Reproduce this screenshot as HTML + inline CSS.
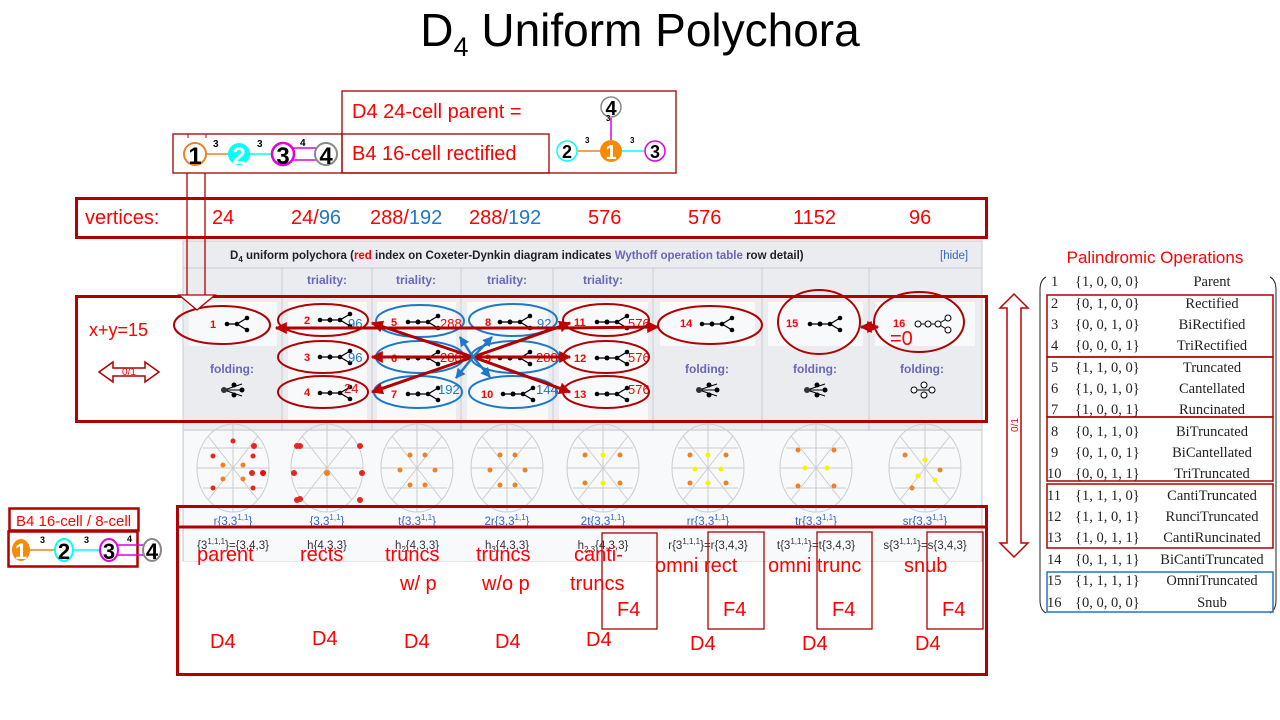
<!DOCTYPE html>
<html><head><meta charset="utf-8"><style>
html,body{margin:0;padding:0;background:#fff;width:1280px;height:720px;overflow:hidden}
svg{display:block}
text{font-family:"Liberation Sans",sans-serif}
.r{fill:#ff0000}.b{fill:#1f77c8}
.th{font-weight:bold;font-size:12px;fill:#6a66b8}
.tn text{font-family:"Liberation Serif",serif;font-size:14.5px;fill:#222}
.sm{font-size:11.5px;fill:#3366cc}
.sm2{font-size:11.5px;fill:#333}
.lbl{font-size:20px;fill:#ff0000}
</style></head><body>
<svg width="1280" height="720" viewBox="0 0 1280 720" xmlns="http://www.w3.org/2000/svg">
<defs>
<g id="cd"><line x1="0" y1="0" x2="10" y2="0" stroke="#000" stroke-width="1.3"/><line x1="10" y1="0" x2="20" y2="-6" stroke="#000" stroke-width="1.3"/><line x1="10" y1="0" x2="20" y2="6" stroke="#000" stroke-width="1.3"/><circle cx="0" cy="0" r="2.3"/><circle cx="10" cy="0" r="2.3"/><circle cx="20" cy="-6" r="2.3"/><circle cx="20" cy="6" r="2.3"/></g>
<g id="cd2"><line x1="0" y1="0" x2="20" y2="0" stroke="#000" stroke-width="1.3"/><line x1="20" y1="0" x2="30" y2="-6" stroke="#000" stroke-width="1.3"/><line x1="20" y1="0" x2="30" y2="6" stroke="#000" stroke-width="1.3"/><circle cx="0" cy="0" r="2.3"/><circle cx="10" cy="0" r="2.5"/><circle cx="20" cy="0" r="2.3"/><circle cx="30" cy="-6" r="2.3"/><circle cx="30" cy="6" r="2.3"/></g>
<g id="fold"><line x1="0" y1="0" x2="18" y2="-6" stroke="#000"/><line x1="0" y1="0" x2="18" y2="6" stroke="#000"/><line x1="0" y1="0" x2="20" y2="0" stroke="#000"/><circle cx="0" cy="0" r="3" fill="#333"/><circle cx="10" cy="-5" r="2.5"/><circle cx="10" cy="5" r="2.5"/><circle cx="18" cy="0" r="2.5"/></g>
<marker id="ar" viewBox="0 0 10 10" refX="9" refY="5" markerWidth="4" markerHeight="4" orient="auto-start-reverse"><path d="M0,0L10,5L0,10z" fill="#c00000"/></marker>
<marker id="ab" viewBox="0 0 10 10" refX="9" refY="5" markerWidth="4" markerHeight="4" orient="auto"><path d="M0,0L10,5L0,10z" fill="#1f77c8"/></marker>
<g id="gr"><ellipse cx="0" cy="0" rx="36" ry="44" fill="none" stroke="#ccc"/><path d="M-36,0L36,0M0,-44L0,44M-25,-32L25,32M25,-32L-25,32M-30,-20L30,-20M-30,20L30,20" stroke="#ccc" fill="none"/></g>
</defs>

<!-- title -->
<text x="640" y="46" text-anchor="middle" font-size="46" fill="#000">D<tspan font-size="27" dy="10">4</tspan><tspan dy="-10"> Uniform Polychora</tspan></text>

<!-- top boxes -->
<rect x="342" y="91" width="334" height="82" fill="none" stroke="#a00000" stroke-width="1.3"/>
<rect x="173" y="134" width="376" height="39" fill="none" stroke="#a00000" stroke-width="1.3"/>
<line x1="342" y1="134" x2="342" y2="173" stroke="#a00000" stroke-width="1.3"/>
<text x="352" y="118" font-size="20" class="r">D4 24-cell parent =</text>
<text x="352" y="160" font-size="20" class="r">B4 16-cell rectified</text>
<g font-weight="bold">
<line x1="205" y1="154" x2="228" y2="154" stroke="#f08020" stroke-width="1.5"/>
<line x1="248" y1="154" x2="272" y2="154" stroke="cyan" stroke-width="1.5"/>
<line x1="292" y1="148" x2="316" y2="148" stroke="#e000e0" stroke-width="1.5"/>
<line x1="292" y1="160" x2="316" y2="160" stroke="#e000e0" stroke-width="1.5"/>
<circle cx="195" cy="154" r="11" fill="#fff" stroke="#f08020" stroke-width="2"/>
<circle cx="239" cy="154" r="11" fill="cyan"/>
<circle cx="283" cy="154" r="11" fill="#fff" stroke="#e000e0" stroke-width="2.5"/>
<circle cx="326" cy="154" r="11" fill="#fff" stroke="#888" stroke-width="2"/>
<text x="195" y="164" text-anchor="middle" font-size="24" fill="#000">1</text>
<text x="239" y="164" text-anchor="middle" font-size="24" fill="#fff">2</text>
<text x="283" y="164" text-anchor="middle" font-size="24" fill="#000">3</text>
<text x="326" y="164" text-anchor="middle" font-size="24" fill="#000">4</text>
<text x="213" y="147" font-size="10">3</text><text x="257" y="147" font-size="10">3</text><text x="300" y="146" font-size="10">4</text>
<line x1="188" y1="134" x2="188" y2="138" stroke="#a00000"/><line x1="206" y1="134" x2="206" y2="138" stroke="#a00000"/>
</g>
<g font-weight="bold">
<line x1="578" y1="151" x2="600" y2="151" stroke="#f08020" stroke-width="1.5"/>
<line x1="622" y1="151" x2="644" y2="151" stroke="cyan" stroke-width="1.5"/>
<line x1="611" y1="118" x2="611" y2="140" stroke="#e000e0" stroke-width="1.5"/>
<circle cx="611" cy="107" r="10" fill="#fff" stroke="#888" stroke-width="1.5"/>
<circle cx="567" cy="151" r="10" fill="#fff" stroke="cyan" stroke-width="1.5"/>
<circle cx="611" cy="151" r="11" fill="#f68a00"/>
<circle cx="655" cy="151" r="10" fill="#fff" stroke="#e000e0" stroke-width="1.5"/>
<text x="611" y="115" text-anchor="middle" font-size="20">4</text>
<text x="567" y="158" text-anchor="middle" font-size="18">2</text>
<text x="611" y="159" text-anchor="middle" font-size="20" fill="#fff">1</text>
<text x="655" y="158" text-anchor="middle" font-size="18">3</text>
<text x="585" y="143" font-size="8">3</text><text x="630" y="143" font-size="8">3</text><text x="606" y="121" font-size="8">3</text>
</g>

<!-- vertices row -->
<rect x="76.5" y="198.5" width="910" height="39" fill="none" stroke="#b00000" stroke-width="3"/>
<g font-size="20" class="r">
<text x="85" y="224">vertices:</text>
<text x="212" y="224">24</text>
<text x="291" y="224">24/<tspan class="b">96</tspan></text>
<text x="370" y="224">288/<tspan class="b">192</tspan></text>
<text x="469" y="224">288/<tspan class="b">192</tspan></text>
<text x="588" y="224">576</text>
<text x="688" y="224">576</text>
<text x="793" y="224">1152</text>
<text x="909" y="224">96</text>
</g>

<!-- table background -->
<rect x="183" y="241" width="799" height="320" fill="#eaecf0" stroke="#c8ccd1"/>
<line x1="183" y1="268" x2="982" y2="268" stroke="#c8ccd1"/>
<line x1="183" y1="430" x2="982" y2="430" stroke="#c8ccd1"/>
<line x1="183" y1="505" x2="982" y2="505" stroke="#c8ccd1"/>
<line x1="183" y1="531" x2="982" y2="531" stroke="#c8ccd1"/>
<g stroke="#c8ccd1"><line x1="282" y1="268" x2="282" y2="561"/><line x1="372" y1="268" x2="372" y2="561"/><line x1="461" y1="268" x2="461" y2="561"/><line x1="553" y1="268" x2="553" y2="561"/><line x1="653" y1="268" x2="653" y2="561"/><line x1="762" y1="268" x2="762" y2="561"/><line x1="869" y1="268" x2="869" y2="561"/></g>
<rect x="184" y="431" width="797" height="74" fill="#f8f9fa"/>
<rect x="184" y="506" width="797" height="55" fill="#f8f9fa"/>
<text x="230" y="259" font-size="11.5" font-weight="bold" fill="#202122">D<tspan font-size="8" dy="3">4</tspan><tspan dy="-3"> uniform polychora (</tspan><tspan fill="#ff0000">red</tspan> index on Coxeter-Dynkin diagram indicates <tspan fill="#6a66b8">Wythoff operation table</tspan> row detail)</text>
<text x="940" y="259" font-size="11.5" fill="#3366cc">[hide]</text>
<g class="th" text-anchor="middle"><text x="327" y="284">triality:</text><text x="416" y="284">triality:</text><text x="507" y="284">triality:</text><text x="603" y="284">triality:</text></g>
<g fill="#f8f9fa"><rect x="189" y="302" width="88" height="44"/><rect x="288" y="302" width="79" height="120"/><rect x="377" y="302" width="79" height="120"/><rect x="467" y="302" width="81" height="120"/><rect x="559" y="302" width="89" height="120"/><rect x="660" y="302" width="95" height="44"/><rect x="768" y="302" width="95" height="44"/><rect x="875" y="302" width="100" height="44"/></g>
<g class="th" text-anchor="middle"><text x="232" y="373">folding:</text><text x="707" y="373">folding:</text><text x="815" y="373">folding:</text><text x="922" y="373">folding:</text></g>
<use href="#fold" x="224" y="390"/><use href="#fold" x="699" y="390"/><use href="#fold" x="807" y="390"/>
<g transform="translate(914,390)"><line x1="0" y1="0" x2="20" y2="0" stroke="#000"/><circle cx="0" cy="0" r="3" fill="#fff" stroke="#000"/><circle cx="10" cy="-5" r="3" fill="#fff" stroke="#000"/><circle cx="10" cy="5" r="3" fill="#fff" stroke="#000"/><circle cx="18" cy="0" r="3" fill="#fff" stroke="#000"/></g>
<g font-weight="bold" font-size="11" fill="#ff0000">
<text x="210" y="328">1</text><text x="304" y="324">2</text><text x="304" y="361">3</text><text x="304" y="396">4</text>
<text x="391" y="326">5</text><text x="391" y="362">6</text><text x="391" y="398">7</text>
<text x="485" y="326">8</text><text x="485" y="362">9</text><text x="481" y="398">10</text>
<text x="574" y="326">11</text><text x="574" y="362">12</text><text x="574" y="398">13</text>
<text x="680" y="327">14</text><text x="786" y="327">15</text><text x="893" y="327">16</text>
</g>
<use href="#cd" x="227" y="324"/>
<use href="#cd2" x="320" y="320"/><use href="#cd2" x="320" y="357"/><use href="#cd2" x="320" y="393"/>
<use href="#cd2" x="408" y="322"/><use href="#cd2" x="408" y="358"/><use href="#cd2" x="408" y="394"/>
<use href="#cd2" x="500" y="322"/><use href="#cd2" x="500" y="358"/><use href="#cd2" x="503" y="394"/>
<use href="#cd2" x="597" y="322"/><use href="#cd2" x="597" y="358"/><use href="#cd2" x="597" y="394"/>
<use href="#cd2" x="702" y="324"/><use href="#cd2" x="810" y="324"/>
<g transform="translate(918,324)" fill="#fff" stroke="#000"><line x1="0" y1="0" x2="20" y2="0"/><line x1="20" y1="0" x2="30" y2="-6"/><line x1="20" y1="0" x2="30" y2="6"/><circle cx="0" cy="0" r="3"/><circle cx="10" cy="0" r="3"/><circle cx="20" cy="0" r="3"/><circle cx="30" cy="-6" r="3"/><circle cx="30" cy="6" r="3"/></g>
<g font-size="13"><text x="348" y="328" class="b">96</text><text x="348" y="362" class="b">96</text><text x="344" y="393" class="r">24</text>
<text x="440" y="328" class="r">288</text><text x="440" y="362" class="r">288</text><text x="438" y="394" class="b">192</text>
<text x="537" y="328" class="b">92</text><text x="536" y="362" class="r">288</text><text x="536" y="394" class="b">144</text>
<text x="628" y="328" class="r">576</text><text x="628" y="362" class="r">576</text><text x="628" y="394" class="r">576</text>
<text x="890" y="345" font-size="20" class="r">=0</text></g>

<g fill="none" stroke-width="2">
<ellipse cx="222" cy="325" rx="48" ry="19" stroke="#b00000"/>
<ellipse cx="323" cy="320" rx="45" ry="16" stroke="#b00000"/><ellipse cx="323" cy="357" rx="45" ry="16" stroke="#b00000"/><ellipse cx="323" cy="392" rx="45" ry="16" stroke="#b00000"/>
<ellipse cx="420" cy="321" rx="44" ry="16" stroke="#1f77c8"/><ellipse cx="420" cy="357" rx="44" ry="16" stroke="#1f77c8"/><ellipse cx="418" cy="392" rx="44" ry="16" stroke="#1f77c8"/>
<ellipse cx="513" cy="320" rx="44" ry="16" stroke="#1f77c8"/><ellipse cx="515" cy="357" rx="44" ry="16" stroke="#1f77c8"/><ellipse cx="513" cy="392" rx="44" ry="16" stroke="#1f77c8"/>
<ellipse cx="606" cy="320" rx="43" ry="16" stroke="#b00000"/><ellipse cx="606" cy="357" rx="43" ry="16" stroke="#b00000"/><ellipse cx="606" cy="392" rx="43" ry="16" stroke="#b00000"/>
<ellipse cx="710" cy="325" rx="52" ry="19" stroke="#b00000"/>
<ellipse cx="819" cy="322" rx="41" ry="32" stroke="#b00000"/>
<ellipse cx="919" cy="322" rx="45" ry="30" stroke="#b00000"/>
</g>
<g stroke="#b00000" stroke-width="3" marker-end="url(#ar)" fill="none">
<line x1="473" y1="357" x2="372" y2="323"/><line x1="473" y1="357" x2="372" y2="357"/><line x1="473" y1="357" x2="372" y2="392"/>
<line x1="473" y1="357" x2="570" y2="323"/><line x1="473" y1="357" x2="570" y2="357"/><line x1="473" y1="357" x2="570" y2="392"/>
<line x1="560" y1="328" x2="276" y2="328"/><line x1="560" y1="328" x2="658" y2="327"/>
<line x1="861" y1="327" x2="878" y2="327" marker-start="url(#ar)"/>
</g>
<g stroke="#1f77c8" stroke-width="2.5" marker-end="url(#ab)">
<line x1="473" y1="357" x2="460" y2="337"/><line x1="473" y1="357" x2="492" y2="337"/><line x1="473" y1="357" x2="456" y2="378"/><line x1="473" y1="357" x2="490" y2="377"/>
</g>

<rect x="76.5" y="296.5" width="910" height="125" fill="none" stroke="#b00000" stroke-width="3"/>
<text x="89" y="336" font-size="18" class="r">x+y=15</text>
<path d="M99,372 L113,362 L113,368 L145,368 L145,362 L159,372 L145,382 L145,376 L113,376 L113,382 Z" fill="#fff" stroke="#b00000" stroke-width="1.5"/>
<text x="129" y="375" font-size="10" text-anchor="middle" class="r">0/1</text>
<g stroke="#b00000" stroke-width="1.3" fill="#fff">
<line x1="187" y1="173" x2="187" y2="296"/><line x1="205" y1="173" x2="205" y2="296"/>
<path d="M179,295 L215,295 L197,310 Z"/>
</g>

<g>
<use href="#gr" x="233" y="468"/><use href="#gr" x="327" y="468"/><use href="#gr" x="417" y="468"/><use href="#gr" x="507" y="468"/><use href="#gr" x="603" y="468"/><use href="#gr" x="708" y="468"/><use href="#gr" x="816" y="468"/><use href="#gr" x="925" y="468"/>
</g>
<g fill="#e6261f">
<circle cx="213" cy="456" r="2.5"/><circle cx="253" cy="456" r="2.5"/><circle cx="213" cy="488" r="2.5"/><circle cx="253" cy="488" r="2.5"/><circle cx="233" cy="441" r="2.5"/>
<circle cx="263" cy="473" r="3" fill="#ff0000"/><circle cx="254" cy="446" r="3"/><circle cx="300" cy="446" r="3"/><circle cx="252" cy="473" r="3"/><circle cx="300" cy="499" r="3"/>
<circle cx="297" cy="446" r="3"/><circle cx="360" cy="446" r="3"/><circle cx="294" cy="473" r="3"/><circle cx="362" cy="473" r="3"/><circle cx="297" cy="500" r="3"/><circle cx="360" cy="500" r="3"/>
</g>
<g fill="#f08020">
<circle cx="223" cy="465" r="2.5"/><circle cx="243" cy="465" r="2.5"/><circle cx="223" cy="479" r="2.5"/><circle cx="243" cy="479" r="2.5"/><circle cx="327" cy="473" r="3"/>
<circle cx="410" cy="455" r="2.5"/><circle cx="425" cy="455" r="2.5"/><circle cx="400" cy="470" r="2.5"/><circle cx="435" cy="470" r="2.5"/><circle cx="410" cy="485" r="2.5"/><circle cx="425" cy="485" r="2.5"/>
<circle cx="500" cy="455" r="2.5"/><circle cx="515" cy="455" r="2.5"/><circle cx="490" cy="470" r="2.5"/><circle cx="525" cy="470" r="2.5"/><circle cx="500" cy="485" r="2.5"/><circle cx="515" cy="485" r="2.5"/>
<circle cx="585" cy="455" r="2.5"/><circle cx="620" cy="455" r="2.5"/><circle cx="585" cy="483" r="2.5"/><circle cx="620" cy="483" r="2.5"/>
<circle cx="690" cy="455" r="2.5"/><circle cx="726" cy="455" r="2.5"/><circle cx="690" cy="483" r="2.5"/><circle cx="726" cy="483" r="2.5"/>
<circle cx="798" cy="450" r="2.5"/><circle cx="834" cy="450" r="2.5"/><circle cx="798" cy="486" r="2.5"/><circle cx="834" cy="486" r="2.5"/>
<circle cx="905" cy="455" r="2.5"/><circle cx="940" cy="470" r="2.5"/><circle cx="912" cy="488" r="2.5"/>
</g>
<g fill="#f5f500">
<circle cx="603" cy="455" r="2.5"/><circle cx="603" cy="483" r="2.5"/><circle cx="708" cy="455" r="2.5"/><circle cx="708" cy="483" r="2.5"/><circle cx="695" cy="469" r="2.5"/><circle cx="721" cy="469" r="2.5"/>
<circle cx="805" cy="468" r="2.5"/><circle cx="827" cy="468" r="2.5"/><circle cx="925" cy="460" r="2.5"/><circle cx="918" cy="476" r="2.5"/><circle cx="935" cy="480" r="2.5"/>
</g>

<g class="sm" text-anchor="middle">
<text x="233" y="525">r{3,3<tspan font-size="8" dy="-5">1,1</tspan><tspan dy="5">}</tspan></text>
<text x="327" y="525">{3,3<tspan font-size="8" dy="-5">1,1</tspan><tspan dy="5">}</tspan></text>
<text x="417" y="525">t{3,3<tspan font-size="8" dy="-5">1,1</tspan><tspan dy="5">}</tspan></text>
<text x="507" y="525">2r{3,3<tspan font-size="8" dy="-5">1,1</tspan><tspan dy="5">}</tspan></text>
<text x="603" y="525">2t{3,3<tspan font-size="8" dy="-5">1,1</tspan><tspan dy="5">}</tspan></text>
<text x="708" y="525">rr{3,3<tspan font-size="8" dy="-5">1,1</tspan><tspan dy="5">}</tspan></text>
<text x="816" y="525">tr{3,3<tspan font-size="8" dy="-5">1,1</tspan><tspan dy="5">}</tspan></text>
<text x="925" y="525">sr{3,3<tspan font-size="8" dy="-5">1,1</tspan><tspan dy="5">}</tspan></text>
</g>
<g class="sm2" text-anchor="middle">
<text x="233" y="549">{3<tspan font-size="8" dy="-5">1,1,1</tspan><tspan dy="5">}={3,4,3}</tspan></text>
<text x="327" y="549">h{4,3,3}</text>
<text x="417" y="549">h<tspan font-size="8" dy="3">2</tspan><tspan dy="-3">{4,3,3}</tspan></text>
<text x="507" y="549">h<tspan font-size="8" dy="3">3</tspan><tspan dy="-3">{4,3,3}</tspan></text>
<text x="603" y="549">h<tspan font-size="8" dy="3">2,3</tspan><tspan dy="-3">{4,3,3}</tspan></text>
<text x="708" y="549">r{3<tspan font-size="8" dy="-5">1,1,1</tspan><tspan dy="5">}=r{3,4,3}</tspan></text>
<text x="816" y="549">t{3<tspan font-size="8" dy="-5">1,1,1</tspan><tspan dy="5">}=t{3,4,3}</tspan></text>
<text x="925" y="549">s{3<tspan font-size="8" dy="-5">1,1,1</tspan><tspan dy="5">}=s{3,4,3}</tspan></text>
</g>

<rect x="177.5" y="506.5" width="809" height="168" fill="none" stroke="#b00000" stroke-width="3"/>
<line x1="177" y1="527" x2="987" y2="527" stroke="#b00000" stroke-width="3"/>
<g fill="none" stroke="#b00000" stroke-width="1.3">
<rect x="602" y="533" width="55" height="96"/><rect x="708" y="532" width="56" height="97"/><rect x="817" y="532" width="55" height="97"/><rect x="927" y="532" width="56" height="97"/>
</g>
<g class="lbl">
<text x="197" y="561">parent</text><text x="300" y="561">rects</text>
<text x="385" y="561">truncs</text><text x="400" y="590">w/ p</text>
<text x="476" y="561">truncs</text><text x="482" y="590">w/o p</text>
<text x="574" y="561">canti-</text><text x="570" y="590">truncs</text>
<text x="655" y="572">omni rect</text><text x="768" y="572">omni trunc</text><text x="904" y="572">snub</text>
<text x="617" y="616">F4</text><text x="723" y="616">F4</text><text x="832" y="616">F4</text><text x="942" y="616">F4</text>
<text x="210" y="648">D4</text><text x="312" y="645">D4</text><text x="404" y="648">D4</text><text x="495" y="648">D4</text><text x="586" y="646">D4</text>
<text x="690" y="650">D4</text><text x="802" y="650">D4</text><text x="915" y="650">D4</text>
</g>

<rect x="9.5" y="508.5" width="129" height="22" fill="none" stroke="#b00000" stroke-width="2.5"/>
<rect x="8.5" y="531.5" width="129" height="35" fill="none" stroke="#b00000" stroke-width="2.5"/>
<text x="16" y="526" font-size="15" class="r">B4 16-cell / 8-cell</text>
<g font-weight="bold">
<line x1="28" y1="550" x2="56" y2="550" stroke="#f08020" stroke-width="1.5"/>
<line x1="72" y1="550" x2="100" y2="550" stroke="cyan" stroke-width="1.5"/>
<line x1="116" y1="545" x2="145" y2="545" stroke="#e000e0" stroke-width="1.5"/>
<line x1="116" y1="555" x2="145" y2="555" stroke="#e000e0" stroke-width="1.5"/>
<ellipse cx="21" cy="550" rx="9" ry="11" fill="#f68a00"/>
<ellipse cx="64" cy="550" rx="9" ry="11" fill="#fff" stroke="cyan" stroke-width="2"/>
<ellipse cx="109" cy="550" rx="9" ry="11" fill="#fff" stroke="#e000e0" stroke-width="2"/>
<ellipse cx="152" cy="550" rx="9" ry="11" fill="#fff" stroke="#888" stroke-width="2"/>
<text x="21" y="559" text-anchor="middle" font-size="22" fill="#fff">1</text>
<text x="64" y="559" text-anchor="middle" font-size="22">2</text>
<text x="109" y="559" text-anchor="middle" font-size="22">3</text>
<text x="152" y="559" text-anchor="middle" font-size="22">4</text>
<text x="40" y="543" font-size="9">3</text><text x="84" y="543" font-size="9">3</text><text x="127" y="542" font-size="9">4</text>
</g>

<path d="M1014,294 L1028,308 L1021,308 L1021,543 L1028,543 L1014,557 L1000,543 L1007,543 L1007,308 L1000,308 Z" fill="#fff" stroke="#c00000" stroke-width="1.5"/>
<text transform="translate(1018,425) rotate(-90)" font-size="10" text-anchor="middle" class="r">0/1</text>

<text x="1155" y="263" font-size="17" text-anchor="middle" class="r">Palindromic Operations</text>
<path d="M1046,277 Q1040,280 1040,290 L1040,600 Q1040,610 1046,613" fill="none" stroke="#222" stroke-width="1"/>
<path d="M1270,277 Q1276,280 1276,290 L1276,600 Q1276,610 1270,613" fill="none" stroke="#222" stroke-width="1"/>
<g fill="none" stroke="#b00000" stroke-width="1.5">
<rect x="1047" y="295" width="226" height="62"/><rect x="1047" y="357" width="226" height="60"/><rect x="1047" y="417" width="226" height="64"/><rect x="1047" y="484" width="226" height="64"/>
</g>
<rect x="1047" y="572" width="226" height="40" fill="none" stroke="#1f77c8" stroke-width="1.5"/>
<g class="tn">
<text x="1051" y="286">1</text><text x="1075" y="286">{1, 0, 0, 0}</text><text x="1212" y="286" text-anchor="middle">Parent</text>
<text x="1051" y="308">2</text><text x="1075" y="308">{0, 1, 0, 0}</text><text x="1212" y="308" text-anchor="middle">Rectified</text>
<text x="1051" y="329">3</text><text x="1075" y="329">{0, 0, 1, 0}</text><text x="1212" y="329" text-anchor="middle">BiRectified</text>
<text x="1051" y="350">4</text><text x="1075" y="350">{0, 0, 0, 1}</text><text x="1212" y="350" text-anchor="middle">TriRectified</text>
<text x="1051" y="372">5</text><text x="1075" y="372">{1, 1, 0, 0}</text><text x="1212" y="372" text-anchor="middle">Truncated</text>
<text x="1051" y="393">6</text><text x="1075" y="393">{1, 0, 1, 0}</text><text x="1212" y="393" text-anchor="middle">Cantellated</text>
<text x="1051" y="414">7</text><text x="1075" y="414">{1, 0, 0, 1}</text><text x="1212" y="414" text-anchor="middle">Runcinated</text>
<text x="1051" y="436">8</text><text x="1075" y="436">{0, 1, 1, 0}</text><text x="1212" y="436" text-anchor="middle">BiTruncated</text>
<text x="1051" y="457">9</text><text x="1075" y="457">{0, 1, 0, 1}</text><text x="1212" y="457" text-anchor="middle">BiCantellated</text>
<text x="1047" y="478">10</text><text x="1075" y="478">{0, 0, 1, 1}</text><text x="1212" y="478" text-anchor="middle">TriTruncated</text>
<text x="1047" y="500">11</text><text x="1075" y="500">{1, 1, 1, 0}</text><text x="1212" y="500" text-anchor="middle">CantiTruncated</text>
<text x="1047" y="521">12</text><text x="1075" y="521">{1, 1, 0, 1}</text><text x="1212" y="521" text-anchor="middle">RunciTruncated</text>
<text x="1047" y="542">13</text><text x="1075" y="542">{1, 0, 1, 1}</text><text x="1212" y="542" text-anchor="middle">CantiRuncinated</text>
<text x="1047" y="564">14</text><text x="1075" y="564">{0, 1, 1, 1}</text><text x="1212" y="564" text-anchor="middle">BiCantiTruncated</text>
<text x="1047" y="585">15</text><text x="1075" y="585">{1, 1, 1, 1}</text><text x="1212" y="585" text-anchor="middle">OmniTruncated</text>
<text x="1047" y="607">16</text><text x="1075" y="607">{0, 0, 0, 0}</text><text x="1212" y="607" text-anchor="middle">Snub</text>
</g>
</svg>
</body></html>
